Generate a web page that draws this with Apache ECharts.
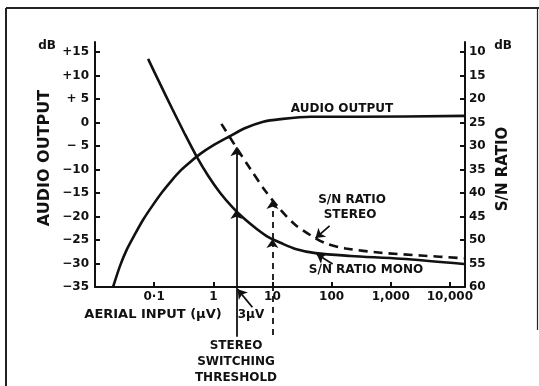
<!DOCTYPE html>
<html>
<head>
<meta charset="utf-8">
<script src="https://cdn.jsdelivr.net/npm/echarts@6/dist/echarts.min.js"></script>
<style>
	html, body { margin: 0; padding: 0; background: #fff; }
	#chart { width: 539px; height: 386px; }
</style>
</head>
<body>
<div id="chart"></div>
<script>
	// aerial input (uV) -> audio output (dB, left axis)
	const audioX = [0.0202, 0.0265, 0.0349, 0.0477, 0.0651, 0.0925, 0.137, 0.202, 0.287, 0.408, 0.602, 0.962, 1.8, 3.49, 6.77, 13.7, 44, 310, 18000]
	const audioDb = [-35, -30.5, -26.9, -23.7, -20.7, -17.8, -14.8, -12.2, -10.1, -8.4, -6.7, -5.0, -3.1, -1.2, 0.1, 0.7, 1.2, 1.2, 1.4]

	// S/N ratio mono (dB, right axis)
	const monoX = [0.079, 0.126, 0.202, 0.322, 0.515, 0.823, 1.31, 2.1, 3.35, 5.36, 8.55, 13.7, 24.6, 53.5, 209, 1480, 17400]
	const monoSn = [11.5, 16.8, 22.1, 27.2, 32.1, 36.4, 40.0, 43.0, 45.5, 47.6, 49.4, 50.6, 51.9, 52.8, 53.4, 54.0, 55.1]

	// S/N ratio stereo (dB, right axis)
	const stereoX = [1.37, 2.36, 4.24, 7.61, 13.7, 24.5, 44.1, 79.1, 173, 676, 3230, 17400]
	const stereoSn = [25.3, 30.0, 34.9, 39.6, 43.6, 46.8, 49.0, 50.7, 51.8, 52.7, 53.3, 53.9]

	// tick labels
	const xTicks = [0.1, 1, 10, 100, 1000, 10000]
	const xTickText = ['0·1', '1', '10', '100', '1,000', '10,000']
	const leftTicks = [-35, -30, -25, -20, -15, -10, -5, 0, 5, 10, 15]
	const rightTicks = [10, 15, 20, 25, 30, 35, 40, 45, 50, 55, 60]

	// annotation arrows: [x, S/N] pairs (right axis)
	const switchSolid = [[2.45, 70.6], [2.45, 43.6], [2.45, 30.3]]
	const switchDashed = [[10, 70.2], [10, 49.8], [10, 41.5]]
	const pointer3uV = [[4.58, 64.3], [2.58, 60.5]]
	const pointerStereo = [[92.5, 47.0], [53.5, 49.6]]
	const pointerMono = [[104, 55.1], [55.7, 53.0]]

	const FONT = '"DejaVu Sans", sans-serif'
	const ink = '#111'

	const pairs = (xs, ys) => xs.map((x, i) => [x, ys[i]])
	const segs = (pts) => {
		const out = []
		for (let i = 1; i < pts.length; i++) out.push({ coords: [pts[i - 1], pts[i]] })
		return out
	}
	const txt = (text, x, y, size, extra) => Object.assign({
		type: 'text', x: x, y: y, silent: true,
		style: { text: text, x: 0, y: 0, fill: ink, font: 'bold ' + size + 'px ' + FONT, align: 'center', verticalAlign: 'middle', lineHeight: 16 }
	}, extra || {})
	const seg = (x1, y1, x2, y2, w) => ({
		type: 'line', silent: true,
		shape: { x1: x1, y1: y1, x2: x2, y2: y2 },
		style: { stroke: '#222', lineWidth: w }
	})

	const option = {
		animation: false,
		grid: { left: 95, right: 74, top: 42, bottom: 99, outerBoundsMode: 'none' },
		xAxis: {
			type: 'log',
			logBase: 10,
			min: 0.01,
			max: 18000,
			axisLine: { onZero: false, lineStyle: { color: ink, width: 2 } },
			axisTick: { inside: true, length: 5, customValues: xTicks, lineStyle: { color: ink, width: 2 } },
			axisLabel: {
				customValues: xTicks,
				margin: 4,
				color: ink,
				fontFamily: FONT,
				fontWeight: 'bold',
				fontSize: 12,
				formatter: (v) => {
					const i = xTicks.findIndex((t) => Math.abs(Math.log10(t) - Math.log10(v)) < 1e-6)
					return i >= 0 ? xTickText[i] : ''
				}
			},
			splitLine: { show: false }
		},
		yAxis: [
			{
				type: 'value',
				min: -35,
				max: 17.1,
				axisLine: { show: true, onZero: false, lineStyle: { color: ink, width: 2 } },
				axisTick: { show: true, inside: true, length: 5, customValues: leftTicks, lineStyle: { color: ink, width: 2 } },
				axisLabel: {
					customValues: leftTicks,
					margin: 6,
					color: ink,
					fontFamily: FONT,
					fontWeight: 'bold',
					fontSize: 12,
					formatter: (v) => {
						if (v === 0) return '0'
						const a = Math.abs(v)
						return (v > 0 ? '+' : '−') + (a < 10 ? ' ' : '') + a
					}
				},
				splitLine: { show: false }
			},
			{
				type: 'value',
				min: 7.9,
				max: 60,
				inverse: true,
				position: 'right',
				axisLine: { show: true, onZero: false, lineStyle: { color: ink, width: 2 } },
				axisTick: { show: true, inside: true, length: 5, customValues: rightTicks, lineStyle: { color: ink, width: 2 } },
				axisLabel: {
					customValues: rightTicks,
					margin: 4,
					color: ink,
					fontFamily: FONT,
					fontWeight: 'bold',
					fontSize: 12
				},
				splitLine: { show: false }
			}
		],
		series: [
			{
				name: 'AUDIO OUTPUT',
				type: 'line',
				yAxisIndex: 0,
				data: pairs(audioX, audioDb),
				smooth: 0.3,
				showSymbol: false,
				lineStyle: { color: ink, width: 2.6 }
			},
			{
				name: 'S/N RATIO MONO',
				type: 'line',
				yAxisIndex: 1,
				data: pairs(monoX, monoSn),
				smooth: 0.3,
				showSymbol: false,
				lineStyle: { color: ink, width: 2.6 }
			},
			{
				name: 'S/N RATIO STEREO',
				type: 'line',
				yAxisIndex: 1,
				data: pairs(stereoX, stereoSn),
				smooth: 0.3,
				showSymbol: false,
				lineStyle: { color: ink, width: 2.6, type: [9, 6] }
			},
			{
				type: 'lines',
				coordinateSystem: 'cartesian2d',
				yAxisIndex: 1,
				clip: false,
				silent: true,
				symbol: ['none', 'arrow'],
				symbolSize: 9,
				lineStyle: { color: ink, width: 1.8, opacity: 1, curveness: 0 },
				data: segs(switchSolid).concat(segs(pointer3uV), segs(pointerStereo), segs(pointerMono))
			},
			{
				type: 'lines',
				coordinateSystem: 'cartesian2d',
				yAxisIndex: 1,
				clip: false,
				silent: true,
				symbol: ['none', 'arrow'],
				symbolSize: 9,
				lineStyle: { color: ink, width: 1.8, opacity: 1, curveness: 0, type: [6, 5] },
				data: segs(switchDashed)
			}
		],
		graphic: [
			seg(6, 8, 6, 386, 2),
			seg(6, 8, 539, 8, 2),
			seg(537.5, 8, 537.5, 330, 1.2),
			txt('dB', 47, 46, 12),
			txt('dB', 503, 46, 12),
			txt('AUDIO OUTPUT', 45, 158, 16, { rotation: Math.PI / 2 }),
			txt('S/N RATIO', 503, 169, 15, { rotation: Math.PI / 2 }),
			txt('AUDIO OUTPUT', 342, 109, 12),
			txt('S/N RATIO', 352, 200, 12),
			txt('STEREO', 350, 215, 12),
			txt('S/N RATIO MONO', 366, 270, 12),
			txt('AERIAL INPUT (μV)', 153, 315, 13),
			txt('3μV', 251, 315, 12),
			txt('STEREO\nSWITCHING\nTHRESHOLD', 236, 362, 12)
		]
	}

	const chart = echarts.init(document.getElementById('chart'))
	chart.setOption(option)
	window.onresize = () => {
		chart.resize()
	}
</script>
</body>
</html>
